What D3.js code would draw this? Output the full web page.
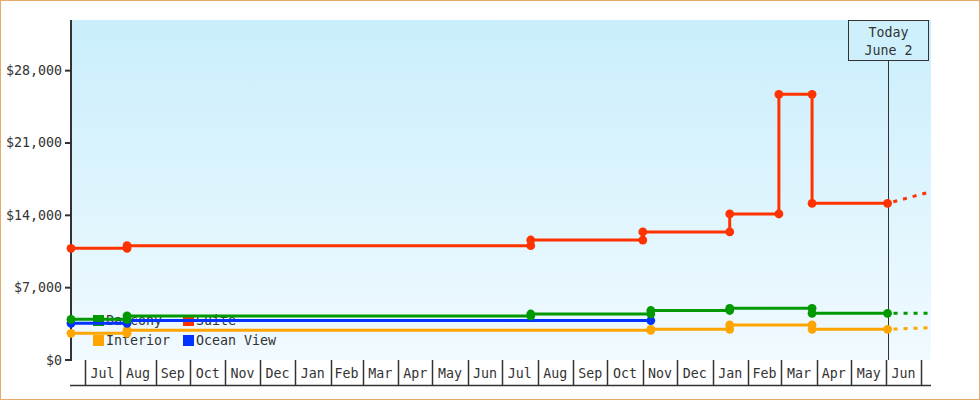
<!DOCTYPE html>
<html><head><meta charset="utf-8">
<script src="https://cdn.jsdelivr.net/npm/d3@7"></script>
<style>
html,body{margin:0;padding:0;background:#fff;}
svg{display:block;}
text{font-family:"DejaVu Sans Mono","Liberation Mono",monospace;fill:#333;}
</style></head>
<body>
<svg id="chart" width="980" height="400"></svg>
<script>
// ---- data ----
const domainStart = "2014-06-19";
const domainEnd = "2016-07-10";
const todayDate = "2016-06-02";
const todayLabel = ["Today", "June 2"];
const yTicks = [0, 7000, 14000, 21000, 28000];
const yMax = 32900;

const seriesNames = ["Balcony", "Suite", "Interior", "Ocean View"];
const seriesColors = ["#009900", "#ff3300", "#ffa500", "#0033ff"];

const suiteDates = ["2014-06-19","2014-08-07","2015-07-26","2015-11-01","2016-01-16","2016-02-28","2016-03-28"];
const suitePrices = [10810, 11060, 11610, 12390, 14130, 25710, 15160];
const suiteProjection = 16290;

const balconyDates = ["2014-06-19","2014-08-07","2015-07-26","2015-11-08","2016-01-16","2016-03-28"];
const balconyPrices = [3940, 4260, 4450, 4790, 5000, 4520];
const balconyProjection = 4520;

const interiorDates = ["2014-06-19","2014-08-07","2015-11-08","2016-01-16","2016-03-28"];
const interiorPrices = [2580, 2870, 2970, 3390, 2970];
const interiorProjection = 3130;

const oceanDates = ["2014-06-19","2014-08-07"];
const oceanPrices = [3550, 3820];
const oceanEnd = "2015-11-08";

// ---- build ----
const FS = 13.3;
const parse = d3.utcParse("%Y-%m-%d");
const svg = d3.select("#chart");
const W = 980, H = 400;
const m = {left: 71, right: 49, top: 20, bottom: 40};
const x = d3.scaleUtc().domain([parse(domainStart), parse(domainEnd)]).range([m.left, W - m.right]);
const y = d3.scaleLinear().domain([0, yMax]).range([H - m.bottom, m.top]);
const x0 = x.range()[0], x1 = x.range()[1], yb = y.range()[0], yt = y.range()[1];

// border
svg.append("rect").attr("x",0.5).attr("y",0.5).attr("width",W-1).attr("height",H-1)
  .attr("fill","#fff").attr("stroke","#e6aa6c").attr("stroke-width",1);

// gradient background
const defs = svg.append("defs");
const g = defs.append("linearGradient").attr("id","bg").attr("x1",0).attr("y1",0).attr("x2",0).attr("y2",1);
g.append("stop").attr("offset","0%").attr("stop-color","#c9eefc");
g.append("stop").attr("offset","100%").attr("stop-color","#f1faff");
svg.append("rect").attr("x",x0).attr("y",yt).attr("width",x1-x0).attr("height",yb-yt).attr("fill","url(#bg)");

// x axis month boxes
const months = d3.utcMonth.range(d3.utcMonth.ceil(x.domain()[0]), x.domain()[1]);
const xa = svg.append("g");
xa.append("line").attr("x1",x0-1).attr("x2",x1).attr("y1",yb+25.5).attr("y2",yb+25.5).attr("stroke","#333").attr("stroke-width",1.5);
months.forEach(d => {
  const px = Math.round(x(d)) + 0.5;
  xa.append("line").attr("x1",px).attr("x2",px).attr("y1",yb).attr("y2",yb+25).attr("stroke","#333").attr("stroke-width",1.5);
  const nxt = d3.utcMonth.offset(d,1);
  if (nxt <= x.domain()[1]) {
    xa.append("text").attr("x",(x(d)+x(nxt))/2).attr("y",yb+18).attr("text-anchor","middle")
      .attr("font-size",FS).text(d3.utcFormat("%b")(d));
  }
});

// y axis
const ya = svg.append("g");
ya.append("line").attr("x1",x0).attr("x2",x0).attr("y1",yt).attr("y2",yb+1).attr("stroke","#333").attr("stroke-width",2);
yTicks.forEach(v => {
  ya.append("line").attr("x1",x0-6).attr("x2",x0).attr("y1",y(v)).attr("y2",y(v)).attr("stroke","#333").attr("stroke-width",2);
  ya.append("text").attr("x",x0-9).attr("y",y(v)+4.5).attr("text-anchor","end").attr("font-size",FS)
    .text("$" + d3.format(",")(v));
});

// legend (behind lines)
const lg = svg.append("g");
seriesNames.forEach((n,i) => {
  const col = i % 2, row = Math.floor(i/2);
  const lx = 93 + col*90, ly = 315 + row*20;
  lg.append("rect").attr("x",lx).attr("y",ly).attr("width",11).attr("height",11).attr("fill",seriesColors[i]);
  lg.append("text").attr("x",lx+13).attr("y",ly+10).attr("font-size",FS).text(n);
});

// today marker
const tx = Math.round(x(parse(todayDate))) + 0.5;
svg.append("line").attr("x1",tx).attr("x2",tx).attr("y1",60).attr("y2",yb).attr("stroke","#333").attr("stroke-width",1);
svg.append("rect").attr("x",tx-40).attr("y",20.5).attr("width",80).attr("height",40)
  .attr("fill","#cdf0fc").attr("stroke","#333").attr("stroke-width",1);
svg.append("text").attr("x",tx).attr("y",37).attr("text-anchor","middle").attr("font-size",FS).text(todayLabel[0]);
svg.append("text").attr("x",tx).attr("y",55).attr("text-anchor","middle").attr("font-size",FS).text(todayLabel[1]);

// series
function drawSeries(dates, prices, color, endDate, projection) {
  const pts = dates.map((d,i) => ({date: parse(d), v: prices[i]}));
  const end = parse(endDate);
  const linePts = pts.concat([{date: end, v: prices[prices.length-1]}]);
  const line = d3.line().x(d => x(d.date)).y(d => y(d.v)).curve(d3.curveStepAfter);
  svg.append("path").attr("d", line(linePts)).attr("fill","none").attr("stroke",color)
    .attr("stroke-width",3).attr("stroke-linejoin","miter");
  if (projection !== null) {
    svg.append("path").attr("d", d3.line().x(d => x(d.date)).y(d => y(d.v))(
        [{date: end, v: prices[prices.length-1]}, {date: x.domain()[1], v: projection}]))
      .attr("fill","none").attr("stroke",color).attr("stroke-width",3).attr("stroke-dasharray","4,6")
      .attr("stroke-dashoffset",-6);
  }
  const dots = [];
  pts.forEach((p,i) => {
    if (i > 0) dots.push({date: p.date, v: prices[i-1]});
    dots.push(p);
  });
  dots.push({date: end, v: prices[prices.length-1]});
  svg.append("g").selectAll("circle").data(dots).join("circle")
    .attr("cx", d => x(d.date)).attr("cy", d => y(d.v)).attr("r", 4.4).attr("fill", color);
}
drawSeries(interiorDates, interiorPrices, seriesColors[2], todayDate, interiorProjection);
drawSeries(oceanDates, oceanPrices, seriesColors[3], oceanEnd, null);
drawSeries(balconyDates, balconyPrices, seriesColors[0], todayDate, balconyProjection);
drawSeries(suiteDates, suitePrices, seriesColors[1], todayDate, suiteProjection);
</script>
</body></html>
